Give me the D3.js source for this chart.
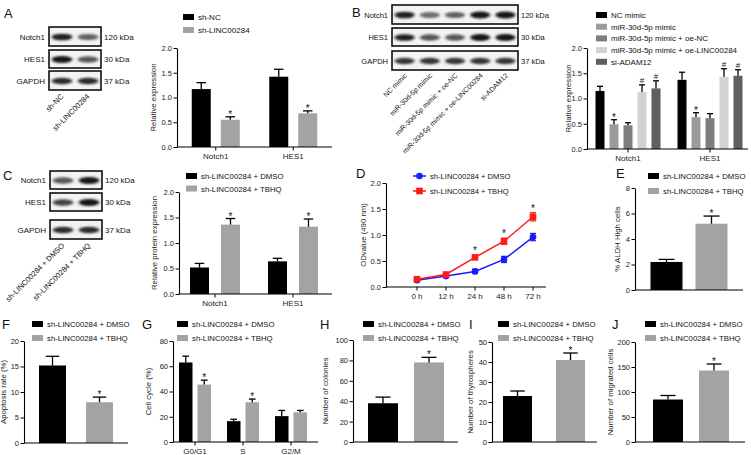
<!DOCTYPE html>
<html><head><meta charset="utf-8">
<script src="https://cdn.jsdelivr.net/npm/d3@7"></script>
<style>
body{margin:0;background:#fff;}
svg{display:block;font-family:"Liberation Sans",Arial,sans-serif;}
</style></head><body>
<svg id="fig" width="751" height="455"></svg>
<script>
// ---------------- DATA ----------------
const dmsoName = "sh-LINC00284 + DMSO";
const tbhqName = "sh-LINC00284 + TBHQ";

// Panel A
const aBlotRows = ["Notch1", "HES1", "GAPDH"];
const aBlotKDa = ["120 kDa", "30 kDa", "37 kDa"];
const aBlotLanes = ["sh-NC", "sh-LINC00284"];
const aBlotIntensity = [[0.95, 0.65], [1.0, 0.7], [0.9, 0.9]];
const aGroups = ["Notch1", "HES1"];
const aSeries = ["sh-NC", "sh-LINC00284"];
const aValues = [[1.17, 1.42], [0.55, 0.68]];
const aErrors = [[0.13, 0.15], [0.06, 0.05]];
const aMarks = [["", ""], ["*", "*"]];

// Panel B
const bBlotRows = ["Notch1", "HES1", "GAPDH"];
const bBlotKDa = ["120 kDa", "30 kDa", "37 kDa"];
const bBlotLanes = ["NC mimic", "miR-30d-5p mimic", "miR-30d-5p mimic + oe-NC", "miR-30d-5p mimic + oe-LINC00284", "si-ADAM12"];
const bBlotIntensity = [[0.95, 0.6, 0.65, 1.0, 1.0], [0.95, 0.7, 0.7, 1.0, 1.0], [0.85, 0.85, 0.85, 0.85, 0.85]];
const bGroups = ["Notch1", "HES1"];
const bSeries = ["NC mimic", "miR-30d-5p mimic", "miR-30d-5p mimic + oe-NC", "miR-30d-5p mimic + oe-LINC00284", "si-ADAM12"];
const bValues = [[1.15, 1.37], [0.49, 0.63], [0.47, 0.61], [1.13, 1.43], [1.20, 1.45]];
const bErrors = [[0.09, 0.15], [0.09, 0.09], [0.05, 0.09], [0.14, 0.16], [0.15, 0.12]];
const bMarks = [["", ""], ["*", "*"], ["", ""], ["#", "#"], ["#", "#"]];

// Panel C
const cBlotRows = ["Notch1", "HES1", "GAPDH"];
const cBlotKDa = ["120 kDa", "30 kDa", "37 kDa"];
const cBlotLanes = [dmsoName, tbhqName];
const cBlotIntensity = [[0.7, 1.0], [0.8, 1.0], [0.9, 0.9]];
const cGroups = ["Notch1", "HES1"];
const cValues = [[0.52, 0.64], [1.36, 1.32]];
const cErrors = [[0.08, 0.06], [0.12, 0.15]];
const cMarks = [["", ""], ["*", "*"]];

// Panel D
const dTimes = ["0 h", "12 h", "24 h", "48 h", "72 h"];
const dDMSO = [0.13, 0.21, 0.30, 0.53, 0.96];
const dDMSOErr = [0.03, 0.03, 0.04, 0.06, 0.07];
const dTBHQ = [0.15, 0.24, 0.57, 0.88, 1.35];
const dTBHQErr = [0.03, 0.03, 0.04, 0.06, 0.08];
const dMarks = ["", "", "*", "*", "*"];

// Panels E-J
const eValues = [[2.2], [5.2]], eErrors = [[0.2], [0.6]];
const fValues = [[15.2], [8.0]], fErrors = [[1.8], [1.0]];
const gGroups = ["G0/G1", "S", "G2/M"];
const gValues = [[63, 16.5, 20.5], [45.5, 31.5, 23.5]];
const gErrors = [[5, 1.5, 4.5], [3.5, 2.5, 1.5]];
const gMarks = [["", "", ""], ["*", "*", ""]];
const hValues = [[38], [78]], hErrors = [[6], [5]];
const iValues = [[23], [41]], iErrors = [[2.5], [3.5]];
const jValues = [[85], [143]], jErrors = [[8], [13]];
const singleMarks = [[""], ["*"]];

// ---------------- DRAWING ----------------
const svg = d3.select("#fig");
const FONT = '"Liberation Sans", Arial, sans-serif';
const twoColors = ["#000000", "#a3a3a3"];
const bColors = ["#000000", "#9b9b9b", "#7e7e7e", "#d2d2d2", "#5f5f5f"];

const defs = svg.append("defs");
defs.append("filter").attr("id", "blur").attr("x", "-30%").attr("y", "-100%").attr("width", "160%").attr("height", "300%")
  .append("feGaussianBlur").attr("stdDeviation", "1.6 1.0");

function letter(t, x, y) {
  svg.append("text").attr("x", x).attr("y", y).attr("font-size", 13).attr("fill", "#111").text(t);
}

function blot(o) {
  const g = svg.append("g");
  const laneW = (o.x1 - o.x0) / o.lanes.length;
  o.rows.forEach((r, i) => {
    const [t, b] = o.rowY[i];
    g.append("rect").attr("x", o.x0).attr("y", t).attr("width", o.x1 - o.x0).attr("height", b - t)
      .attr("fill", "#f3f3f3").attr("stroke", "#000").attr("stroke-width", 1.5);
    const cy = (t + b) / 2;
    o.intensity[i].forEach((v, k) => {
      g.append("ellipse").attr("cx", o.x0 + laneW * (k + 0.5)).attr("cy", cy + 0.5)
        .attr("rx", laneW * 0.4).attr("ry", 2.6 + v * 0.8)
        .attr("fill", "#151515").attr("opacity", v).attr("filter", "url(#blur)");
    });
    g.append("text").attr("x", o.x0 - 4).attr("y", cy + 3).attr("text-anchor", "end")
      .attr("font-size", o.fs).attr("fill", "#111").text(r);
    g.append("text").attr("x", o.x1 + 3).attr("y", cy + 3)
      .attr("font-size", o.fs).attr("fill", "#111").text(o.kda[i]);
  });
  o.lanes.forEach((l, k) => {
    const lx = o.x0 + laneW * (k + 0.5) + o.labDx;
    const ly = o.labY;
    g.append("text").attr("transform", `translate(${lx},${ly}) rotate(-45)`)
      .attr("text-anchor", "end").attr("font-size", o.lfs).attr("fill", "#111").text(l);
  });
}

function yAxis(g, y, o) {
  const ax = d3.axisLeft(y).tickValues(o.ticks).tickFormat(o.fmt).tickSize(3.5).tickSizeOuter(0).tickPadding(1.5);
  const a = g.append("g").attr("transform", `translate(${o.x0},0)`).call(ax);
  a.select(".domain").attr("stroke", "#000").attr("stroke-width", 1.1);
  a.selectAll(".tick line").attr("stroke", "#000").attr("stroke-width", 1);
  a.selectAll(".tick text").attr("font-size", 7.5).attr("font-family", FONT).attr("fill", "#222");
  g.append("line").attr("x1", o.x0).attr("x2", o.x1).attr("y1", o.yZero).attr("y2", o.yZero)
    .attr("stroke", "#000").attr("stroke-width", 1.1);
  g.append("text").attr("transform", `translate(${o.ylx},${(o.yZero + o.yTop) / 2}) rotate(-90)`)
    .attr("text-anchor", "middle").attr("font-size", 7.8).attr("fill", "#222").text(o.ylabel);
}

function legend(g, o) {
  o.names.forEach((n, i) => {
    const ly = o.ly + i * o.ldy;
    g.append("rect").attr("x", o.lx).attr("y", ly - 3).attr("width", o.lw || 11).attr("height", 6).attr("fill", o.colors[i]);
    g.append("text").attr("x", o.lx + (o.ltx || 15)).attr("y", ly + 3).attr("font-size", o.lfs || 7.8).attr("fill", "#111").text(n);
  });
}

function barChart(o) {
  const g = svg.append("g");
  const y = d3.scaleLinear().domain([0, o.max]).range([o.yZero, o.yTop]);
  const xb = d3.scaleBand().domain(o.groups).range([o.bandStart, o.bandStart + o.groups.length * o.bandStep]);
  const n = o.values.length;
  o.values.forEach((vals, s) => {
    vals.forEach((v, gi) => {
      const c = xb(o.groups[gi]) + xb.bandwidth() / 2;
      const bx = c + (s - (n - 1) / 2) * (o.barW + o.gap) - o.barW / 2;
      const top = y(v), et = y(v + o.errors[s][gi]);
      g.append("rect").attr("x", bx).attr("y", top).attr("width", o.barW).attr("height", o.yZero - top).attr("fill", o.colors[s]);
      g.append("line").attr("x1", bx + o.barW / 2).attr("x2", bx + o.barW / 2).attr("y1", top).attr("y2", et)
        .attr("stroke", "#000").attr("stroke-width", 1.3);
      const cw = o.capW || o.barW * 0.5;
      g.append("line").attr("x1", bx + o.barW / 2 - cw / 2).attr("x2", bx + o.barW / 2 + cw / 2).attr("y1", et).attr("y2", et)
        .attr("stroke", "#000").attr("stroke-width", 1.3);
      const m = o.marks ? o.marks[s][gi] : "";
      if (m) {
        g.append("text").attr("x", bx + o.barW / 2).attr("y", et - (m === "*" ? -1 : 2)).attr("text-anchor", "middle")
          .attr("font-size", m === "*" ? 10 : 8).attr("fill", "#111").text(m);
      }
    });
  });
  yAxis(g, y, o);
  if (o.groupLabels) {
    o.groups.forEach(gr => {
      const c = xb(gr) + xb.bandwidth() / 2;
      g.append("line").attr("x1", c).attr("x2", c).attr("y1", o.yZero).attr("y2", o.yZero + 3.5).attr("stroke", "#000");
      g.append("text").attr("x", c).attr("y", o.yZero + 11.5).attr("text-anchor", "middle").attr("font-size", 8).attr("fill", "#222").text(gr);
    });
  }
  legend(g, o);
}

// ---- Panel A ----
letter("A", 4, 18);
blot({x0: 49, x1: 101, rows: aBlotRows, rowY: [[27, 46], [50, 68], [71, 90]], kda: aBlotKDa, lanes: aBlotLanes,
  intensity: aBlotIntensity, fs: 8, lfs: 7.5, labY: 97, labDx: 2});
barChart({x0: 177, x1: 332, yZero: 147, yTop: 48, max: 2, ticks: [0, 0.5, 1, 1.5, 2], fmt: d3.format(".1f"),
  groups: aGroups, bandStart: 177, bandStep: 77.5, barW: 19, gap: 10, values: aValues, errors: aErrors, marks: aMarks,
  colors: twoColors, ylabel: "Relative expression", ylx: 156, groupLabels: true,
  names: aSeries, lx: 183, ly: 17, ldy: 13, lfs: 8});

// ---- Panel B ----
letter("B", 352, 17);
blot({x0: 392, x1: 518, rows: bBlotRows, rowY: [[5, 24], [28, 46], [51, 70]], kda: bBlotKDa, lanes: bBlotLanes,
  intensity: bBlotIntensity, fs: 7.5, lfs: 7, labY: 76, labDx: 3});
barChart({x0: 587, x1: 748, yZero: 149, yTop: 48, max: 2, ticks: [0, 0.5, 1, 1.5, 2], fmt: d3.format(".1f"),
  groups: bGroups, bandStart: 587, bandStep: 82, barW: 9, gap: 5, values: bValues, errors: bErrors, marks: bMarks,
  colors: bColors, capW: 6, ylabel: "Relative expression", ylx: 571, groupLabels: true,
  names: bSeries, lx: 596, ly: 15, ldy: 11.7, lfs: 8});

// ---- Panel C ----
letter("C", 3, 180);
blot({x0: 50, x1: 102, rows: cBlotRows, rowY: [[171, 189], [193, 211], [220, 239]], kda: cBlotKDa, lanes: cBlotLanes,
  intensity: cBlotIntensity, fs: 8, lfs: 7.5, labY: 246, labDx: 2});
barChart({x0: 179, x1: 332, yZero: 294, yTop: 192, max: 2, ticks: [0, 0.5, 1, 1.5, 2], fmt: d3.format(".1f"),
  groups: cGroups, bandStart: 176, bandStep: 78, barW: 19, gap: 12, values: cValues, errors: cErrors, marks: cMarks,
  colors: twoColors, ylabel: "Relative protein expression", ylx: 157, groupLabels: true,
  names: [dmsoName, tbhqName], lx: 186, ly: 176, ldy: 12.5});

// ---- Panel D ----
letter("D", 356, 178);
(function () {
  const g = svg.append("g");
  const o = {x0: 386, x1: 546, yZero: 287, yTop: 183, ticks: [0, 0.5, 1, 1.5, 2], fmt: d3.format(".1f"),
    ylabel: "ODvalue (490 nm)", ylx: 366};
  const y = d3.scaleLinear().domain([0, 2]).range([o.yZero, o.yTop]);
  const x = d3.scalePoint().domain(dTimes).range([417, 533]);
  yAxis(g, y, o);
  dTimes.forEach(t => {
    g.append("line").attr("x1", x(t)).attr("x2", x(t)).attr("y1", o.yZero).attr("y2", o.yZero + 3.5).attr("stroke", "#000");
    g.append("text").attr("x", x(t)).attr("y", o.yZero + 12).attr("text-anchor", "middle").attr("font-size", 8).attr("fill", "#222").text(t);
  });
  const series = [
    {v: dDMSO, e: dDMSOErr, c: "#1a1aff", shape: "circle"},
    {v: dTBHQ, e: dTBHQErr, c: "#ff1a1a", shape: "square"}];
  const line = d3.line().x((d, i) => x(dTimes[i])).y(d => y(d));
  series.forEach(s => {
    g.append("path").attr("d", line(s.v)).attr("fill", "none").attr("stroke", s.c).attr("stroke-width", 1.5);
    s.v.forEach((v, i) => {
      const cx = x(dTimes[i]);
      const y1 = y(v - s.e[i]), y2 = y(v + s.e[i]);
      g.append("line").attr("x1", cx).attr("x2", cx).attr("y1", y1).attr("y2", y2).attr("stroke", s.c).attr("stroke-width", 1.2);
      [y1, y2].forEach(yy => g.append("line").attr("x1", cx - 3).attr("x2", cx + 3).attr("y1", yy).attr("y2", yy).attr("stroke", s.c).attr("stroke-width", 1.2));
      if (s.shape === "circle") g.append("circle").attr("cx", cx).attr("cy", y(v)).attr("r", 3.3).attr("fill", s.c);
      else g.append("rect").attr("x", cx - 3.3).attr("y", y(v) - 3.3).attr("width", 6.6).attr("height", 6.6).attr("fill", s.c);
    });
  });
  dTBHQ.forEach((v, i) => {
    if (dMarks[i]) g.append("text").attr("x", x(dTimes[i])).attr("y", y(v + dTBHQErr[i]) - 1).attr("text-anchor", "middle")
      .attr("font-size", 10).attr("fill", "#111").text(dMarks[i]);
  });
  // legend
  [{n: dmsoName, c: "#1a1aff", shape: "circle", ly: 176}, {n: tbhqName, c: "#ff1a1a", shape: "square", ly: 191}].forEach(l => {
    g.append("line").attr("x1", 413).attr("x2", 426).attr("y1", l.ly).attr("y2", l.ly).attr("stroke", l.c).attr("stroke-width", 1.5);
    if (l.shape === "circle") g.append("circle").attr("cx", 419.5).attr("cy", l.ly).attr("r", 3.3).attr("fill", l.c);
    else g.append("rect").attr("x", 416.2).attr("y", l.ly - 3.3).attr("width", 6.6).attr("height", 6.6).attr("fill", l.c);
    g.append("text").attr("x", 430).attr("y", l.ly + 3).attr("font-size", 7.6).attr("fill", "#111").text(l.n);
  });
})();

// ---- Panel E ----
letter("E", 616, 178);
barChart({x0: 635, x1: 743, yZero: 290, yTop: 188, max: 8, ticks: [0, 2, 4, 6, 8], fmt: d3.format("d"),
  groups: ["E"], bandStart: 635, bandStep: 108, barW: 32, gap: 13, values: eValues, errors: eErrors, marks: singleMarks,
  colors: twoColors, ylabel: "% ALDH High cells", ylx: 620,
  names: [dmsoName, tbhqName], lx: 648, ly: 176, ldy: 15});

// ---- Panel F ----
letter("F", 2, 329);
barChart({x0: 24, x1: 128, yZero: 443, yTop: 341, max: 20, ticks: [0, 5, 10, 15, 20], fmt: d3.format("d"),
  groups: ["F"], bandStart: 24, bandStep: 104, barW: 27, gap: 20, values: fValues, errors: fErrors, marks: singleMarks,
  colors: twoColors, ylabel: "Apoptosis rate (%)", ylx: 6,
  names: [dmsoName, tbhqName], lx: 32, ly: 324, ldy: 14});

// ---- Panel G ----
letter("G", 142, 329);
barChart({x0: 173, x1: 318, yZero: 442, yTop: 341, max: 80, ticks: [0, 20, 40, 60, 80], fmt: d3.format("d"),
  groups: gGroups, bandStart: 171, bandStep: 48, barW: 13.5, gap: 5, values: gValues, errors: gErrors, marks: gMarks,
  colors: twoColors, ylabel: "Cell cycle (%)", ylx: 151, groupLabels: true,
  names: [dmsoName, tbhqName], lx: 177, ly: 324, ldy: 14});

// ---- Panel H ----
letter("H", 320, 329);
barChart({x0: 353, x1: 458, yZero: 442, yTop: 340, max: 100, ticks: [0, 20, 40, 60, 80, 100], fmt: d3.format("d"),
  groups: ["H"], bandStart: 353, bandStep: 106, barW: 30, gap: 16, values: hValues, errors: hErrors, marks: singleMarks,
  colors: twoColors, ylabel: "Number of colonies", ylx: 328,
  names: [dmsoName, tbhqName], lx: 363, ly: 324, ldy: 14});

// ---- Panel I ----
letter("I", 469, 329);
barChart({x0: 492, x1: 597, yZero: 442, yTop: 342, max: 50, ticks: [0, 10, 20, 30, 40, 50], fmt: d3.format("d"),
  groups: ["I"], bandStart: 492, bandStep: 104, barW: 29, gap: 24, values: iValues, errors: iErrors, marks: singleMarks,
  colors: twoColors, ylabel: "Number of thyrospheres", ylx: 473,
  names: [dmsoName, tbhqName], lx: 498, ly: 324, ldy: 14});

// ---- Panel J ----
letter("J", 612, 329);
barChart({x0: 635, x1: 745, yZero: 442, yTop: 342, max: 200, ticks: [0, 50, 100, 150, 200], fmt: d3.format("d"),
  groups: ["J"], bandStart: 635, bandStep: 112, barW: 30, gap: 16, values: jValues, errors: jErrors, marks: singleMarks,
  colors: twoColors, ylabel: "Number of migrated cells", ylx: 613,
  names: [dmsoName, tbhqName], lx: 645, ly: 324, ldy: 14});
</script>
</body></html>
